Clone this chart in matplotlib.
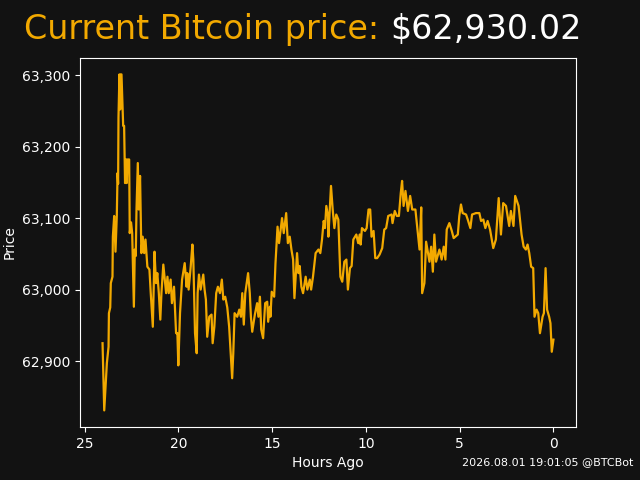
import matplotlib

matplotlib.use("Agg")
import matplotlib.pyplot as plt
from matplotlib.ticker import StrMethodFormatter

BG = "#121212"
ORANGE = "#f2a900"

current_price = "$62,930.02"
timestamp = "2026.08.01 19:01:05 @BTCBot"

# hours ago
hours = [
    24.04, 23.95, 23.81, 23.72, 23.70, 23.63, 23.60, 23.51, 23.49, 23.42,
    23.35, 23.28, 23.24, 23.21, 23.19, 23.14, 23.10, 23.07, 23.03, 23.00,
    22.94, 22.89, 22.84, 22.78, 22.75, 22.71, 22.62, 22.59, 22.52, 22.46,
    22.37, 22.32, 22.27, 22.23, 22.16, 22.11, 22.04, 21.97, 21.90, 21.82,
    21.75, 21.65, 21.54, 21.47, 21.36, 21.27, 21.19, 21.12, 21.04, 20.96,
    20.90, 20.80, 20.65, 20.58, 20.51, 20.41, 20.34, 20.23, 20.18, 20.12,
    20.05, 20.00, 19.91, 19.80, 19.66, 19.56, 19.52, 19.45, 19.34, 19.25,
    19.20, 19.11, 19.02, 18.97, 18.90, 18.81, 18.67, 18.60, 18.53, 18.46,
    18.35, 18.23, 18.17, 18.08, 17.98, 17.89, 17.78, 17.68, 17.60, 17.50,
    17.39, 17.29, 17.21, 17.13, 17.07, 17.00, 16.86, 16.75, 16.66, 16.59,
    16.51, 16.43, 16.28, 16.19,
    16.13, 16.06, 15.92, 15.80, 15.73, 15.65, 15.58, 15.48, 15.37, 15.26,
    15.21, 15.12, 15.09, 15.02, 14.89, 14.82, 14.71, 14.63, 14.47, 14.38,
    14.25, 14.16, 14.06, 13.97, 13.88, 13.81, 13.67, 13.60, 13.53, 13.44,
    13.35, 13.21, 13.12, 12.99, 12.92, 12.82, 12.68, 12.53, 12.43, 12.34,
    12.25, 12.18, 12.11, 12.02, 12.00, 11.93, 11.86, 11.77, 11.68, 11.58,
    11.47, 11.36, 11.26, 11.15, 11.04, 10.96, 10.85, 10.76, 10.67, 10.51,
    10.41, 10.33, 10.28, 10.21, 10.05, 9.96, 9.86, 9.77, 9.70, 9.59,
    9.50, 9.40, 9.27, 9.13, 9.02, 8.92, 8.81, 8.63, 8.58, 8.46,
    8.35, 8.24, 8.14, 8.07,
    7.99, 7.89, 7.76, 7.64, 7.53, 7.36, 7.21, 7.14, 7.05, 7.00,
    6.88, 6.79, 6.61, 6.52, 6.43, 6.35, 6.26, 6.08, 5.96, 5.85,
    5.76, 5.69, 5.55, 5.42, 5.32, 5.10, 5.02, 4.93, 4.84, 4.66,
    4.57, 4.43, 4.34, 4.13, 3.95, 3.86, 3.74, 3.63, 3.51, 3.38,
    3.21, 3.07, 2.92, 2.80, 2.68, 2.53, 2.36, 2.27, 2.13, 2.04,
    1.86, 1.70, 1.59, 1.47, 1.38, 1.29, 1.19, 1.08, 1.01, 0.90,
    0.81, 0.72, 0.58, 0.51, 0.42, 0.34, 0.23, 0.16, 0.09, 0.00,
]

prices = [
    62925, 62831, 62897, 62920, 62967, 62975, 63009, 63018, 63074, 63103,
    63053, 63103, 63163, 63148, 63241, 63301, 63252, 63301, 63301, 63276,
    63229, 63229, 63149, 63182, 63149, 63182, 63182, 63079, 63094, 63079,
    62976, 63056, 63047, 63112, 63177, 63112, 63159, 63051, 63074, 63051,
    63070, 63032, 63028, 62995, 62948, 63053, 63009, 63023, 62995, 62958,
    62995, 63035, 62995, 63018, 62995, 63014, 62981, 63004, 62975, 62939,
    62939, 62894, 62967, 63014, 63037, 63004, 63023, 63000, 63032, 63063,
    63042, 62939, 62911, 62995, 63021, 63000, 63021, 63000, 62986, 62934,
    62962, 62965, 62925, 62948, 62995, 63004, 62995, 63014, 62986, 62990,
    62975, 62948, 62911, 62876, 62911, 62967, 62962, 62972, 62962, 62995,
    62951, 62995, 63023, 62995,
    62962, 62941, 62965, 62981, 62962, 62990, 62944, 62932, 62981, 62983,
    62955, 62976, 62962, 62997, 62990, 63037, 63088, 63065, 63100, 63079,
    63107, 63065, 63074, 63056, 63042, 62988, 63051, 63023, 63033, 63004,
    62995, 63018, 63000, 63014, 63000, 63018, 63051, 63056, 63051, 63070,
    63096, 63086, 63117, 63103, 63074, 63110, 63145, 63112, 63086, 63105,
    63098, 63018, 63011, 63039, 63042, 63000, 63030, 63033, 63070, 63077,
    63065, 63077, 63063, 63086, 63082, 63086, 63112, 63112, 63074, 63082,
    63044, 63044, 63049, 63058, 63084, 63086, 63103, 63105, 63093, 63110,
    63103, 63103, 63135, 63152,
    63117, 63138, 63110, 63131, 63112, 63112, 63074, 63056, 63115, 62995,
    63009, 63067, 63039, 63060, 63025, 63077, 63039, 63056, 63042, 63060,
    63042, 63084, 63093, 63082, 63072, 63077, 63103, 63119, 63107, 63105,
    63098, 63086, 63105, 63107, 63107, 63096, 63098, 63086, 63096, 63084,
    63058, 63070, 63128, 63077, 63121, 63117, 63089, 63110, 63089, 63131,
    63117, 63077, 63060, 63056, 63063, 63051, 63032, 63030, 62962, 62972,
    62967, 62939, 62962, 62967, 63030, 62972, 62962, 62953, 62913, 62930.02,
]


def main():
    fig, ax = plt.subplots(figsize=(6.4, 4.8), dpi=100)
    fig.patch.set_facecolor(BG)
    ax.set_facecolor(BG)

    ax.plot(hours, prices, color=ORANGE, linewidth=1.6)
    ax.invert_xaxis()

    ax.yaxis.set_major_formatter(StrMethodFormatter("{x:,.0f}"))
    ax.set_xlabel("Hours Ago", color="white")
    ax.set_ylabel("Price", color="white")
    ax.tick_params(colors="white")
    for spine in ax.spines.values():
        spine.set_color("white")

    # title in two colours, joined at one anchor point
    fig.text(0.609, 0.918, "Current Bitcoin price: ", color=ORANGE,
             fontsize=24, ha="right", va="baseline")
    fig.text(0.609, 0.918, current_price, color="white",
             fontsize=24, ha="left", va="baseline")
    fig.text(0.989, 0.031, timestamp, color="white",
             fontsize=8, ha="right", va="baseline")

    plt.savefig("out.png", dpi=100, facecolor=BG)
    plt.close()


if __name__ == "__main__":
    main()
